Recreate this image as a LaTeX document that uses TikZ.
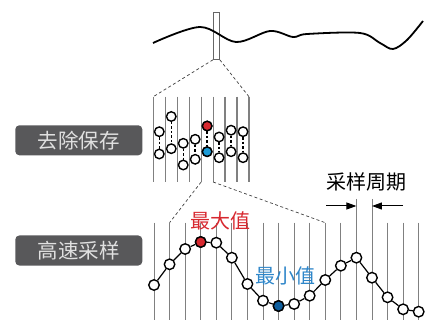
\documentclass[tikz,border=0pt]{standalone}
\usepackage{fontspec}
\newfontfamily\cjk{Noto Sans CJK SC}
\usetikzlibrary{arrows.meta}

\definecolor{boxgray}{HTML}{58585A}
\definecolor{maxred}{HTML}{D7282F}
\definecolor{minblue}{HTML}{2E86C9}
\definecolor{dotcyan}{HTML}{1B9AD6}
\definecolor{dotblue}{HTML}{0D5E9E}

\tikzset{
  sample/.style={circle, draw=black, line width=1.4pt, fill=white, inner sep=0pt, minimum size=10.5pt},
  hold/.style={sample, minimum size=9.5pt},
  tickline/.style={draw=black!50, line width=1.2pt},
  proj/.style={draw=black!75, line width=0.7pt, dash pattern=on 3pt off 2.5pt},
  link/.style={line width=1.4pt, dash pattern=on 2.5pt off 2pt},
  tag/.style={fill=boxgray, rounded corners=4pt, text=black!12, font=\cjk\fontsize{20.5}{20.5}\selectfont,
              minimum width=127pt, minimum height=30pt, inner sep=0pt},
  lbl/.style={font=\cjk\fontsize{20}{20}\selectfont, inner sep=0pt},
}

\begin{document}
\begin{tikzpicture}[x=1pt, y=-1pt]
  \useasboundingbox (0,0) rectangle (428,320);
  %
  % signal and window
  \node[draw=black!60, line width=0.8pt, minimum width=6pt, minimum height=47pt, inner sep=0pt,
        anchor=north west] (win) at (213,12) {};
  \draw[line width=1.8pt, line join=round]
    plot[smooth, tension=0.55] coordinates {(153,43) (200,27) (236,42) (270,31) (293,37) (307,34)
      (360,33) (380,43) (393,49) (407,40) (423,21)};
  %
  % remove / hold stage
  \foreach \i in {0,...,8} {
    \coordinate (mt\i) at (153.3+11.96*\i, 96.7);
    \coordinate (mb\i) at (153.3+11.96*\i, 182);
    \draw[tickline] (mt\i) -- (mb\i);
  }
  \draw[proj] (win.south west) -- (mt0);
  \draw[proj] (win.south east) -- (mt8);
  \foreach \yt/\yb [count=\k from 0] in {131.7/154, 116.5/148.7, 143.3/165, 139.3/159.3,
      126/151.7, 137/157.7, 130.2/151.7, 131.7/157.7} {
    \node[hold] (t\k) at (159.3+11.96*\k, \yt) {};
    \node[hold] (b\k) at (159.3+11.96*\k, \yb) {};
    \draw[link] (t\k) -- (b\k);
  }
  \node[hold, fill=maxred] at (t4) {};
  \node[hold, fill=dotcyan] at (b4) {};
  %
  % fast sampling stage
  \foreach \i in {0,...,17} {
    \coordinate (lt\i) at (154+15.57*\i, 222.7);
    \coordinate (lb\i) at (154+15.57*\i, 322);
    \draw[tickline, line width=0.8pt] (lt\i) -- (lb\i);
  }
  \draw[proj] (mb4) -- (lt1);
  \draw[proj] (mb5) -- (lt11);
  \coordinate (pl) at (154+15.57*13, 199);
  \coordinate (pr) at (154+15.57*14, 199);
  \draw[tickline, line width=0.8pt] (pl) -- (lt13);
  \draw[tickline, line width=0.8pt] (pr) -- (lt14);
  %
  \foreach \y [count=\k from 0] in {285, 264.3, 249, 242, 242.7, 257.7, 284, 300.7, 306,
      304, 295.7, 280, 265.7, 257.7, 277.7, 297.3, 309.3, 311.7}
    \node[sample] (s\k) at (154+15.57*\k, \y) {};
  \foreach \k [remember=\k as \j (initially 0)] in {1,...,17}
    \draw[line width=1.2pt] (s\j) -- (s\k);
  \node[sample, fill=maxred] at (s3) {};
  \node[sample, fill=dotblue] at (s8) {};
  %
  % period marker
  \coordinate (al) at (326,206);
  \coordinate (ar) at (403,206);
  \draw[line width=1pt, -{Triangle[length=10pt, width=7pt]}] (al) -- (al -| pl);
  \draw[line width=1pt, -{Triangle[length=10pt, width=7pt]}] (ar) -- (ar -| pr);
  %
  % labels
  \node[lbl, text=maxred] (maxlbl) at (220.5,221) {最大值};
  \node[lbl, text=minblue] (minlbl) at (285,276) {最小值};
  \node[lbl] (period) at (366,181.5) {采样周期};
  \node[tag] (hold) at (78.8,140.3) {去除保存};
  \node[tag] (fast) at (78.8,250.5) {高速采样};
\end{tikzpicture}
\end{document}
